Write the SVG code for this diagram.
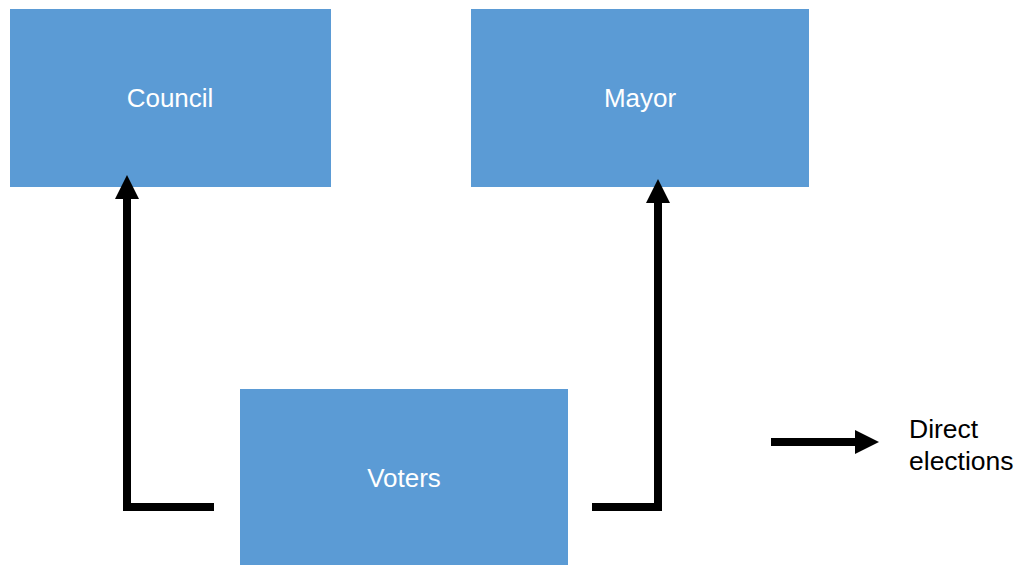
<svg xmlns="http://www.w3.org/2000/svg" width="1018" height="565" viewBox="0 0 1018 565">
  <style>
    .box { fill: #5B9BD5; }
    .lbl { font-family: "Liberation Sans", Arial, sans-serif; font-size: 26px; fill: #FFFFFF; text-anchor: middle; }
    .leg { font-family: "Liberation Sans", Arial, sans-serif; font-size: 26.5px; fill: #000000; }
    .conn { fill: none; stroke: #000000; stroke-width: 8; stroke-linejoin: miter; marker-end: url(#arrow); }
  </style>
  <defs>
    <marker id="arrow" markerUnits="userSpaceOnUse" markerWidth="24" markerHeight="24" viewBox="0 0 24 24" refX="0" refY="12" orient="auto">
      <path d="M0,0 L24,12 L0,24 Z" fill="#000000"/>
    </marker>
  </defs>
  <rect width="1018" height="565" fill="#FFFFFF"/>
  <g id="council">
    <rect class="box" x="10" y="9" width="321" height="178"/>
    <text class="lbl" x="170" y="107">Council</text>
  </g>
  <g id="mayor">
    <rect class="box" x="471" y="9" width="338" height="178"/>
    <text class="lbl" x="640" y="107">Mayor</text>
  </g>
  <g id="voters">
    <rect class="box" x="240" y="389" width="328" height="176"/>
    <text class="lbl" x="404" y="487">Voters</text>
  </g>
  <g id="connectors">
    <path class="conn" d="M214,507 H127 V199"/>
    <path class="conn" d="M592,507 H658 V203"/>
  </g>
  <g id="legend">
    <path class="conn" d="M771,442 H855"/>
    <text class="leg" x="909" y="438">Direct</text>
    <text class="leg" x="909" y="470">elections</text>
  </g>
</svg>
